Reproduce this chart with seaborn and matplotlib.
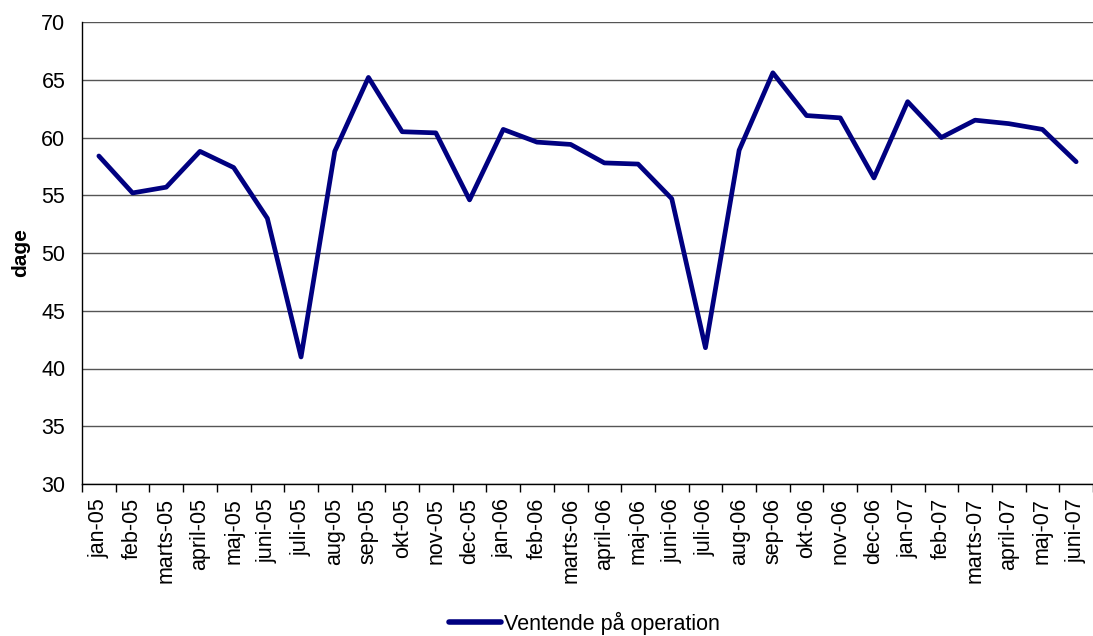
import matplotlib
matplotlib.use("Agg")
import matplotlib.pyplot as plt
import seaborn as sns
import pandas as pd
import numpy as np
from matplotlib.ticker import FixedLocator, MultipleLocator
from matplotlib.lines import Line2D

months = ["jan-05", "feb-05", "marts-05", "april-05", "maj-05", "juni-05", "juli-05",
          "aug-05", "sep-05", "okt-05", "nov-05", "dec-05",
          "jan-06", "feb-06", "marts-06", "april-06", "maj-06", "juni-06", "juli-06",
          "aug-06", "sep-06", "okt-06", "nov-06", "dec-06",
          "jan-07", "feb-07", "marts-07", "april-07", "maj-07", "juni-07"]
values = [58.4, 55.2, 55.7, 58.8, 57.4, 53.0, 41.0,
          58.8, 65.2, 60.5, 60.4, 54.6,
          60.7, 59.6, 59.4, 57.8, 57.7, 54.7, 41.8,
          58.9, 65.6, 61.9, 61.7, 56.5,
          63.1, 60.0, 61.5, 61.2, 60.7, 57.9]
series_name = "Ventende på operation"
y_label = "dage"

sns.set_style("white")
plt.rcParams['font.family'] = ['Liberation Sans', 'DejaVu Sans']
plt.rcParams.update({"text.color": "black", "xtick.color": "black",
                     "ytick.color": "black", "axes.labelcolor": "black"})

df = pd.DataFrame({"month": months, "value": values, "series": series_name})

fig = plt.figure(figsize=(10.93, 6.36), dpi=100)
ax = fig.add_axes([82/1093, 1 - 484/636, 1 - 82/1093, (484 - 22)/636])

sns.lineplot(data=df, x="month", y="value", hue="series", palette=["#000080"],
             linewidth=3.4, ax=ax, legend=False, sort=False)

n = len(months)
ax.set_xlim(-0.5, n - 0.5)
ax.set_ylim(30, 70)
ax.yaxis.set_major_locator(MultipleLocator(5))
ax.set_yticklabels([f"{int(v)}" for v in ax.get_yticks()], fontsize=15.5)

ax.set_xticks(range(n))
ax.set_xticklabels(months, rotation=90, fontsize=15.5)
ax.xaxis.set_minor_locator(FixedLocator(np.arange(-0.5, n, 1.0)))
ax.tick_params(axis="x", which="major", length=0, pad=10)
ax.tick_params(axis="x", which="minor", length=6, width=1, color="black", direction="out", bottom=True)
ax.tick_params(axis="y", which="major", length=0, pad=12)

ax.grid(axis="y", color="#555555", linewidth=1)
ax.set_axisbelow(True)
for s in ["top", "right"]:
    ax.spines[s].set_visible(False)
for s in ["left", "bottom"]:
    ax.spines[s].set_color("black")
    ax.spines[s].set_linewidth(1)

ax.set_xlabel("")
ax.set_ylabel(y_label, fontsize=15, fontweight="bold", labelpad=8)

handle = Line2D([0], [0], color="#000080", linewidth=4)
fig.legend([handle], [series_name], loc="center", bbox_to_anchor=(0.535, 0.02),
           frameon=False, fontsize=15.5, handlelength=2.4, handletextpad=0.15,
           borderpad=0.1)

fig.savefig("out.png", dpi=100)
